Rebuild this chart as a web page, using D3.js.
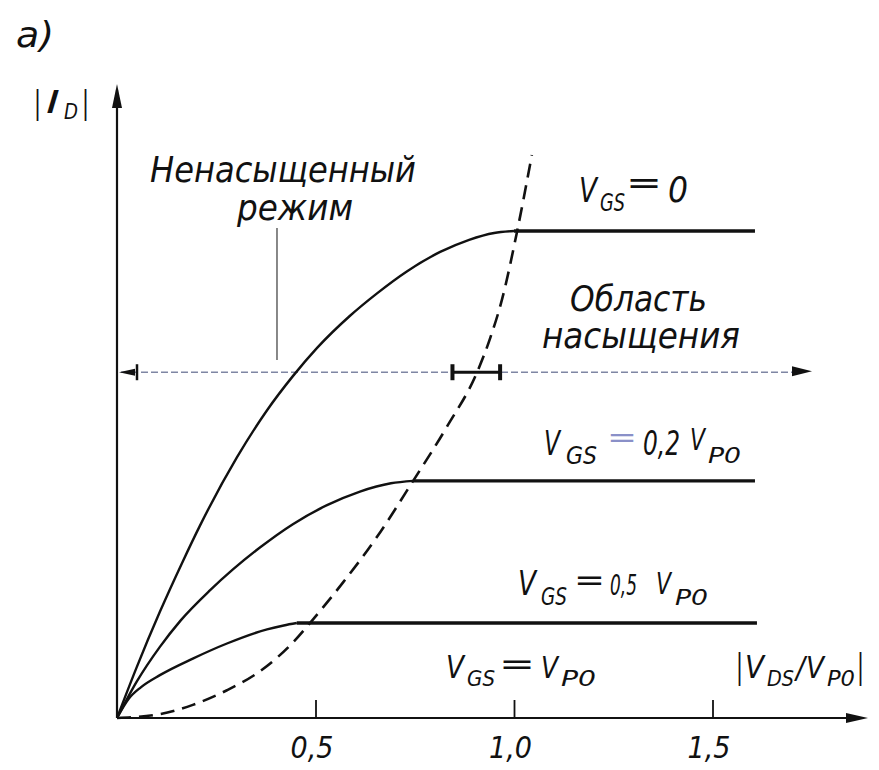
<!DOCTYPE html>
<html>
<head>
<meta charset="utf-8">
<script src="https://cdn.jsdelivr.net/npm/d3@7/dist/d3.min.js"></script>
<style>
  html, body { margin: 0; padding: 0; background: #fff; }
  svg { display: block; }
  text { font-family: "DejaVu Sans Condensed", "DejaVu Sans", sans-serif; font-style: oblique; fill: #111; }
</style>
</head>
<body>
<svg id="chart" width="879" height="770"></svg>
<script>
// Output characteristics of a JFET: normalised drain current |I_D| vs |V_DS / V_P0|
// Each curve: [V_DS/V_P0, I_D/I_DSS]; the last point ends the flat saturated part
const curveVgs0 = [
  [0, 0], [0.05, 0.105], [0.108, 0.218], [0.166, 0.322], [0.209, 0.395],
  [0.302, 0.535], [0.378, 0.632], [0.443, 0.702], [0.504, 0.76], [0.587, 0.826],
  [0.655, 0.872], [0.73, 0.917], [0.814, 0.957], [0.887, 0.982], [0.95, 0.996], [1.0, 1.0],
  [1.607, 1.0]
];
const curveVgs02 = [
  [0, 0], [0.05, 0.075], [0.108, 0.146], [0.16, 0.2], [0.234, 0.262], [0.292, 0.305],
  [0.36, 0.35], [0.443, 0.398], [0.529, 0.437], [0.612, 0.465], [0.69, 0.482], [0.746, 0.487],
  [1.607, 0.487]
];
const curveVgs05 = [
  [0, 0], [0.03, 0.04], [0.06, 0.063], [0.108, 0.088], [0.191, 0.122],
  [0.277, 0.153], [0.378, 0.182], [0.42, 0.19], [0.453, 0.195],
  [1.612, 0.195]
];
// Boundary of the saturation region
const saturationBoundary = [
  [0, 0], [0.108, 0.008], [0.191, 0.027], [0.277, 0.057], [0.36, 0.096],
  [0.443, 0.155], [0.486, 0.195], [0.569, 0.278], [0.655, 0.372], [0.746, 0.487],
  [0.831, 0.598], [0.907, 0.71], [0.94, 0.78], [0.97, 0.86], [1.008, 1.0], [1.045, 1.156]
];
const xTicks = [0.5, 1.0, 1.5];
const regionLevel = 0.71;          // level of the region-divider arrow
const regionBracket = [0.845, 0.965];
const regionPointerX = 0.403;

const svg = d3.select("#chart");
const x = d3.scaleLinear().domain([0, 1]).range([117, 514]);
const y = d3.scaleLinear().domain([0, 1]).range([718, 231]);

const line = d3.line().x(d => x(d[0])).y(d => y(d[1])).curve(d3.curveMonotoneX);

function arrowHead(tip, dir, len, half) {
  const [tx, ty] = tip, [dx, dy] = dir;
  const bx = tx - dx * len, by = ty - dy * len;
  const px = -dy * half, py = dx * half;
  return `M${tx},${ty}L${bx + px},${by + py}L${bx - px},${by - py}Z`;
}

// axes
const x0 = x(0), y0 = y(0);
svg.append("line").attr("x1", x0).attr("y1", y0).attr("x2", 862).attr("y2", y0)
  .attr("stroke", "#111").attr("stroke-width", 2.2);
svg.append("path").attr("d", arrowHead([868, y0], [1, 0], 22, 5)).attr("fill", "#111");
svg.append("line").attr("x1", x0).attr("y1", y0).attr("x2", x0).attr("y2", 90)
  .attr("stroke", "#111").attr("stroke-width", 2.2);
svg.append("path").attr("d", arrowHead([x0, 84], [0, -1], 24, 5)).attr("fill", "#111");

const xAxis = d3.axisBottom(x)
  .tickValues(xTicks)
  .tickFormat(d => d3.format(".1f")(d).replace(".", ","))
  .tickSizeInner(-18).tickSizeOuter(0).tickPadding(20);
const gx = svg.append("g").attr("transform", `translate(0,${y0})`).call(xAxis);
gx.select(".domain").remove();
gx.selectAll(".tick line").attr("stroke", "#111").attr("stroke-width", 1.8);
gx.selectAll(".tick text")
  .attr("font-family", null).attr("font-size", 30).attr("fill", "#111")
  .attr("dy", null).attr("y", 40).attr("dx", -4);

// region divider: dashed level arrow
const ry = y(regionLevel);
svg.append("line").attr("x1", x0 + 4).attr("y1", ry).attr("x2", 795).attr("y2", ry)
  .attr("stroke", "#7f86a3").attr("stroke-width", 1.3).attr("stroke-dasharray", "7,3");
svg.append("path").attr("d", arrowHead([812, ry - 1], [1, 0], 20, 5)).attr("fill", "#111");
svg.append("path").attr("d", arrowHead([x0 + 2, ry], [-1, 0], 16, 3.5)).attr("fill", "#111");
svg.append("line").attr("x1", x0 + 20).attr("x2", x0 + 20).attr("y1", ry - 8).attr("y2", ry + 8)
  .attr("stroke", "#111").attr("stroke-width", 2.5);
// bracket around the boundary crossing
const [bA, bB] = regionBracket.map(x);
svg.append("line").attr("x1", bA).attr("x2", bB).attr("y1", ry).attr("y2", ry)
  .attr("stroke", "#111").attr("stroke-width", 3);
[bA, bB].forEach(bx => svg.append("line").attr("x1", bx).attr("x2", bx)
  .attr("y1", ry - 8).attr("y2", ry + 8).attr("stroke", "#111").attr("stroke-width", 4));
// pointer from the "unsaturated" label
svg.append("line").attr("x1", x(regionPointerX)).attr("x2", x(regionPointerX))
  .attr("y1", 228).attr("y2", 360).attr("stroke", "#555").attr("stroke-width", 1.4);

// curves
[curveVgs0, curveVgs02, curveVgs05].forEach(c => {
  const knee = c.length - 2;
  svg.append("path").datum(c.slice(0, knee + 1)).attr("d", line)
    .attr("fill", "none").attr("stroke", "#111").attr("stroke-width", 2.4);
  svg.append("path").datum(c.slice(knee)).attr("d", line)
    .attr("fill", "none").attr("stroke", "#111").attr("stroke-width", 3.4);
});
svg.append("path").datum(saturationBoundary).attr("d", line)
  .attr("fill", "none").attr("stroke", "#111").attr("stroke-width", 2.6)
  .attr("stroke-dasharray", "14,8");

// labels: one text element per label, pieces of [text, x, baseline, size, width, colour]
function label(parts) {
  const t = svg.append("text");
  parts.forEach(([s, px, py, size, w, col]) => {
    const sp = t.append("tspan").attr("x", px).attr("y", py)
      .attr("font-size", size).text(s);
    if (w) sp.attr("textLength", w).attr("lengthAdjust", "spacingAndGlyphs");
    if (col) sp.attr("fill", col);
  });
}
label([["а)", 16, 47, 36, 38]]);
label([["|", 34, 113, 32, 7], ["I", 46, 113, 32, 14], ["D", 64, 119, 22, 14], ["|", 82, 113, 32, 7]]);
label([["Ненасыщенный", 150, 182, 35, 266]]);
label([["режим", 237, 220, 35, 116]]);
label([["Область", 570, 311, 35, 137]]);
label([["насыщения", 542, 348, 35, 198]]);
label([["V", 579, 202, 34, 18], ["GS", 600, 211, 24, 25], ["=", 626, 194, 32, 36], ["0", 668, 202, 36, 20]]);
label([["V", 544, 455, 34, 16], ["GS", 566, 464, 24, 31], ["=", 607, 447, 28, 30, "#8a90c8"],
       ["0,2", 643, 455, 34, 37], ["V", 690, 450, 30, 15], ["P0", 708, 463, 21, 33]]);
label([["V", 518, 595, 34, 18], ["GS", 541, 605, 24, 26], ["=", 574, 590, 30, 31],
       ["0,5", 610, 595, 29, 27], ["V", 656, 594, 30, 15], ["P0", 675, 605, 21, 33]]);
label([["V", 446, 678, 32, 18], ["GS", 467, 686, 22, 28], ["=", 499, 674, 30, 36],
       ["V", 541, 678, 30, 17], ["P0", 561, 686, 21, 35]]);
label([["|", 736, 678, 34, 7], ["V", 745, 678, 32, 19], ["DS", 767, 686, 22, 27], ["/", 796, 678, 30, 9],
       ["V", 806, 678, 30, 18], ["P0", 827, 686, 21, 28], ["|", 857, 678, 34, 7]]);
</script>
</body>
</html>
